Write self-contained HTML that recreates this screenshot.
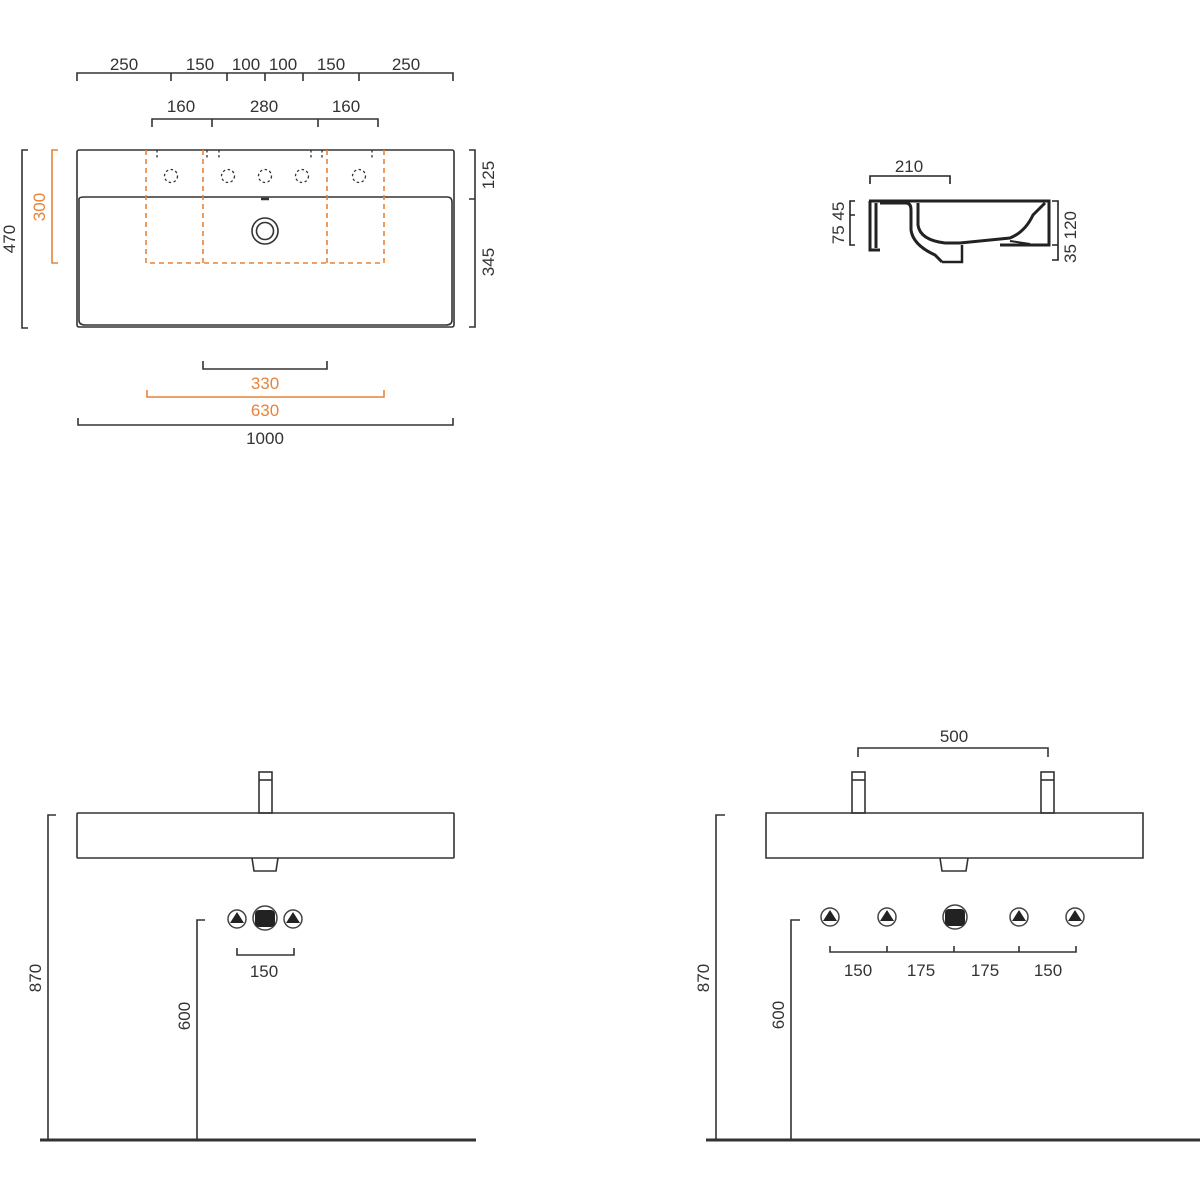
<!DOCTYPE html>
<html><head><meta charset="utf-8"><style>
html,body{margin:0;padding:0;background:#fff}
svg{display:block}
text{font-family:"Liberation Sans",sans-serif;font-size:17px;fill:#333}
.o{fill:#e8833a}
</style></head><body>
<svg width="1200" height="1200" viewBox="0 0 1200 1200" xmlns="http://www.w3.org/2000/svg">
<g fill="none" stroke="#333" stroke-width="1.6">
<!-- top dims -->
<path d="M77,81 V73 H453 V81 M171,73 V81 M227,73 V81 M265,73 V81 M303,73 V81 M359,73 V81"/>
<path d="M152,127 V119 H378 V127 M212,119 V127 M318,119 V127"/>
<!-- plan outer -->
<rect x="77" y="150" width="377" height="177" rx="2"/>
<path d="M79,199 Q79,197 85,197 H447 Q452,197 452,202 V320 Q452,325 446,325 H85 Q79,325 79,320 Z"/>
<circle cx="265" cy="231" r="13"/><circle cx="265" cy="231" r="8.5"/>
<path d="M261,199 H269" stroke-width="2.5"/>
<path d="M28,150 H22 V328 H28"/>
<path d="M469,150 H475 V327 H469 M469,199 H475"/>
<!-- bottom dims top view -->
<path d="M203,361 V369 H327 V361"/>
<path d="M78,418 V425 H453 V418"/>
</g>
<g fill="none" stroke="#333" stroke-width="1.3" stroke-dasharray="2.5,2.5">
<circle cx="171" cy="176" r="6.5"/><circle cx="228" cy="176" r="6.5"/><circle cx="265" cy="176" r="6.5"/><circle cx="302" cy="176" r="6.5"/><circle cx="359" cy="176" r="6.5"/>
<path d="M157,150 V160 M207,150 V160 M219,150 V160 M311,150 V160 M322,150 V160 M372,150 V160"/>
</g>
<g fill="none" stroke="#e8833a" stroke-width="1.6">
<path d="M58,150 H52 V263 H58"/>
<path d="M147,390 V397 H384 V390"/>
<path d="M146,150 V263 H384 V150 M203,150 V263 M327,150 V263" stroke-dasharray="5,4"/>
</g>
<text x="124" y="70" text-anchor="middle">250</text>
<text x="200" y="70" text-anchor="middle">150</text>
<text x="246" y="70" text-anchor="middle">100</text>
<text x="283" y="70" text-anchor="middle">100</text>
<text x="331" y="70" text-anchor="middle">150</text>
<text x="406" y="70" text-anchor="middle">250</text>
<text x="181" y="112" text-anchor="middle">160</text>
<text x="264" y="112" text-anchor="middle">280</text>
<text x="346" y="112" text-anchor="middle">160</text>
<text transform="translate(15,239) rotate(-90)" text-anchor="middle">470</text>
<text class="o" transform="translate(45,207) rotate(-90)" text-anchor="middle">300</text>
<text transform="translate(494,175) rotate(-90)" text-anchor="middle">125</text>
<text transform="translate(494,262) rotate(-90)" text-anchor="middle">345</text>
<text class="o" x="265" y="389" text-anchor="middle">330</text>
<text class="o" x="265" y="416" text-anchor="middle">630</text>
<text x="265" y="444" text-anchor="middle">1000</text>

<!-- side section -->
<g fill="none" stroke="#222">
<path d="M870,184 V176 H950 V184" stroke-width="1.6"/>
<path d="M855,201 H850 V245 H855 M850,215 H855" stroke-width="1.6"/>
<path d="M1052,201 H1058 V245 M1052,245 H1058 M1058,245 V260 H1052" stroke-width="1.6"/>
<path d="M869,201 H1049 V245 H1000" stroke-width="3"/>
<path d="M870,201 V250 H880 M876,203 V248" stroke-width="3"/>
<path d="M880,203 H906 Q911,203 911,210 V230 Q913,245 935,255 L942,262" stroke-width="3"/>
<path d="M918,203 V225 Q920,240 945,243 H960 Q990,240 1010,238 Q1025,232 1033,215 L1045,203" stroke-width="3"/>
<path d="M942,262 H962 V245" stroke-width="2.5"/>
<path d="M1010,241 L1030,244" stroke-width="2"/>
</g>
<text x="909" y="172" text-anchor="middle">210</text>
<text transform="translate(844,223) rotate(-90)" text-anchor="middle">75 45</text>
<text transform="translate(1076,237) rotate(-90)" text-anchor="middle">35 120</text>

<!-- bottom left elevation -->
<g fill="none" stroke="#333" stroke-width="1.6">
<rect x="77" y="813" width="377" height="45" rx="1"/>
<rect x="259" y="772" width="13" height="41"/><path d="M259,780 H272"/>
<path d="M252,858 L254,871 H276 L278,858"/>
<path d="M56,815 H48 V1140 M205,920 H197 V1140"/>
<path d="M237,948 V955 H294 V948"/>
<path d="M40,1140 H476" stroke-width="3"/>
<path d="M766,813 H1143 V858 H766 Z"/>
<rect x="852" y="772" width="13" height="41"/><path d="M852,780 H865"/>
<rect x="1041" y="772" width="13" height="41"/><path d="M1041,780 H1054"/>
<path d="M858,757 V748 H1048 V757"/>
<path d="M940,858 L942,871 H966 L968,858"/>
<path d="M725,815 H716 V1140 M800,920 H791 V1140"/>
<path d="M830,946 V952 H1076 V946 M887,946 V952 M954,946 V952 M1019,946 V952"/>
<path d="M706,1140 H1200" stroke-width="3"/>
</g>
<g stroke="#444" stroke-width="1.5">
<g fill="#333">
<circle cx="237" cy="919" r="9" fill="#fff"/><circle cx="293" cy="919" r="9" fill="#fff"/>
<circle cx="830" cy="917" r="9" fill="#fff"/><circle cx="887" cy="917" r="9" fill="#fff"/>
<circle cx="1019" cy="917" r="9" fill="#fff"/><circle cx="1075" cy="917" r="9" fill="#fff"/>
<circle cx="265" cy="918" r="12" fill="#fff"/><circle cx="955" cy="917" r="12" fill="#fff"/>
</g>
</g>
<g fill="#222">
<path d="M237,912 L244,923 H230 Z"/><path d="M293,912 L300,923 H286 Z"/>
<path d="M830,910 L837,921 H823 Z"/><path d="M887,910 L894,921 H880 Z"/>
<path d="M1019,910 L1026,921 H1012 Z"/><path d="M1075,910 L1082,921 H1068 Z"/>
<rect x="255" y="910" width="20" height="17" rx="4"/><rect x="945" y="909" width="20" height="17" rx="4"/>
</g>
<text x="264" y="977" text-anchor="middle">150</text>
<text transform="translate(41,978) rotate(-90)" text-anchor="middle">870</text>
<text transform="translate(190,1016) rotate(-90)" text-anchor="middle">600</text>
<text x="954" y="742" text-anchor="middle">500</text>
<text x="858" y="976" text-anchor="middle">150</text>
<text x="921" y="976" text-anchor="middle">175</text>
<text x="985" y="976" text-anchor="middle">175</text>
<text x="1048" y="976" text-anchor="middle">150</text>
<text transform="translate(709,978) rotate(-90)" text-anchor="middle">870</text>
<text transform="translate(784,1015) rotate(-90)" text-anchor="middle">600</text>
</svg>
</body></html>
